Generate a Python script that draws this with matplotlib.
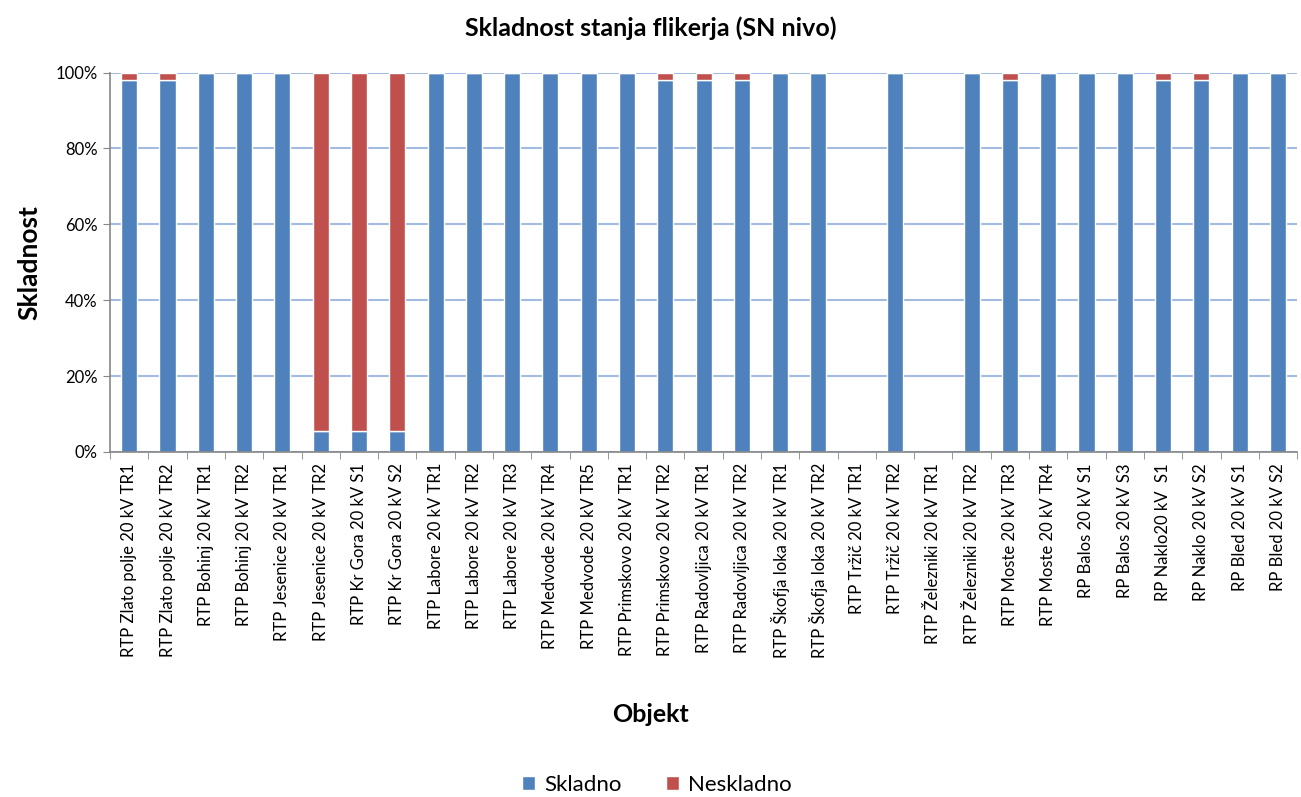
import numpy as np
import matplotlib.pyplot as plt
from matplotlib.ticker import PercentFormatter, FixedLocator

# categories (SN measuring points)
objekti = [
    "RTP Zlato polje 20 kV TR1", "RTP Zlato polje 20 kV TR2",
    "RTP Bohinj 20 kV TR1", "RTP Bohinj 20 kV TR2",
    "RTP Jesenice 20 kV TR1", "RTP Jesenice 20 kV TR2",
    "RTP Kr Gora 20 kV S1", "RTP Kr Gora 20 kV S2",
    "RTP Labore 20 kV TR1", "RTP Labore 20 kV TR2", "RTP Labore 20 kV TR3",
    "RTP Medvode 20 kV TR4", "RTP Medvode 20 kV TR5",
    "RTP Primskovo 20 kV TR1", "RTP Primskovo 20 kV TR2",
    "RTP Radovljica 20 kV TR1", "RTP Radovljica 20 kV TR2",
    "RTP Škofja loka 20 kV TR1", "RTP Škofja loka 20 kV TR2",
    "RTP Tržič 20 kV TR1", "RTP Tržič 20 kV TR2",
    "RTP Železniki 20 kV TR1", "RTP Železniki 20 kV TR2",
    "RTP Moste 20 kV TR3", "RTP Moste 20 kV TR4",
    "RP Balos 20 kV S1", "RP Balos 20 kV S3",
    "RP Naklo20 kV  S1", "RP Naklo 20 kV S2",
    "RP Bled 20 kV S1", "RP Bled 20 kV S2",
]

# share of weeks (%), no data for Tržič TR1 and Železniki TR1
skladno = [98, 98, 100, 100, 100, 5.6, 5.6, 5.6, 100, 100, 100, 100, 100, 100, 98,
           98, 98, 100, 100, 0, 100, 0, 100, 98, 100, 100, 100, 98, 98, 100, 100]
neskladno = [2, 2, 0, 0, 0, 94.4, 94.4, 94.4, 0, 0, 0, 0, 0, 0, 2,
             2, 2, 0, 0, 0, 0, 0, 0, 2, 0, 0, 0, 2, 2, 0, 0]

plt.rcParams["font.family"] = ["Lato", "DejaVu Sans"]

fig = plt.figure(figsize=(13.01, 7.97), dpi=100)
ax = fig.add_axes([0.0846, 0.433, 0.9124, 0.476])

x = np.arange(len(objekti))
w = 0.42
ax.bar(x, skladno, w, color="#4F81BD", edgecolor="white", linewidth=1, label="Skladno", zorder=2)
ax.bar(x, neskladno, w, bottom=skladno, color="#C0504D", edgecolor="white", linewidth=1,
       label="Neskladno", zorder=2)

ax.set_xlim(-0.5, len(objekti) - 0.5)
ax.set_ylim(0, 100)
ax.set_yticks(np.arange(0, 101, 20))
ax.yaxis.set_major_formatter(PercentFormatter(decimals=0))
ax.grid(axis="y", color="#A3BBE2", linewidth=1.5, zorder=0)
ax.set_axisbelow(True)

ax.set_xticks(x)
ax.set_xticklabels(objekti, rotation=90, fontsize=12)
ax.xaxis.set_minor_locator(FixedLocator(np.arange(-0.5, len(objekti), 1)))
ax.tick_params(axis="x", which="major", length=0, pad=8)
ax.tick_params(axis="x", which="minor", length=5, color="#868686", direction="out")
ax.tick_params(axis="y", length=5, color="#868686", labelsize=12, pad=4)

for s in ["top", "right"]:
    ax.spines[s].set_visible(False)
for s in ["left", "bottom"]:
    ax.spines[s].set_color("#868686")
    ax.spines[s].set_linewidth(1.2)
    ax.spines[s].set_zorder(3)

fig.text(0.5, 0.965, "Skladnost stanja flikerja (SN nivo)", ha="center", va="center",
         fontsize=18, fontweight="bold")
ax.set_ylabel("Skladnost", fontsize=19, fontweight="bold", labelpad=10)
fig.text(0.5, 0.103, "Objekt", ha="center", va="center", fontsize=18, fontweight="bold")

fig.legend(loc="center", bbox_to_anchor=(0.505, 0.015), ncol=2, frameon=False, fontsize=16,
           handlelength=0.6, handleheight=0.6, handletextpad=0.4, columnspacing=2.0)

fig.savefig("out.png", dpi=100)
